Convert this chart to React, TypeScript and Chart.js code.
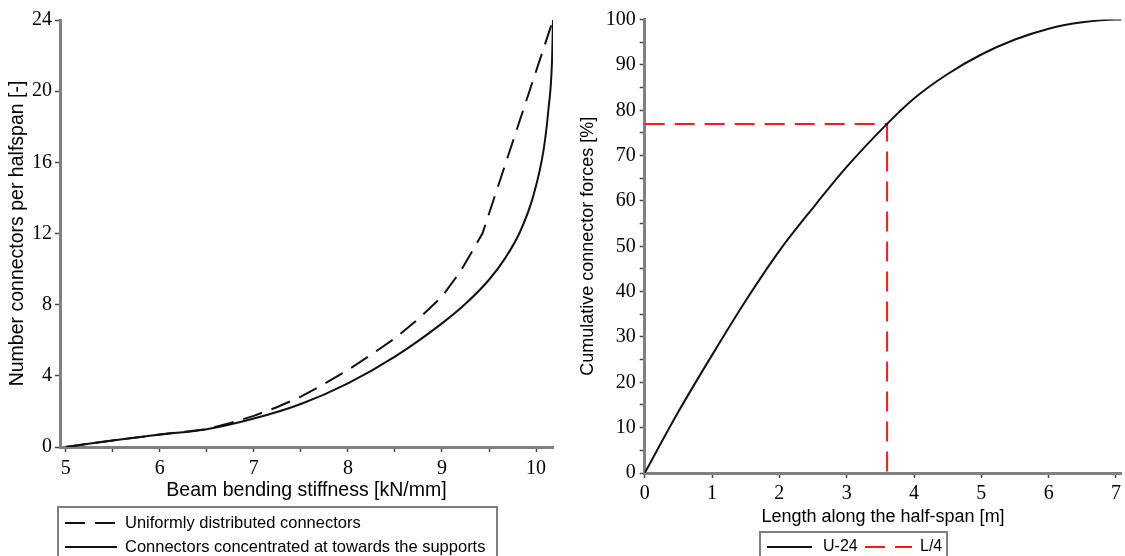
import React, { useEffect, useRef } from 'react';
import { Chart, registerables } from 'chart.js';

Chart.register(...registerables);

// ---- Left chart data ----
const stiffnessUniform = [5.0, 5.5, 6.0, 6.5, 6.75, 7.0, 7.25, 7.5, 7.75, 8.0, 8.25, 8.5, 8.75, 9.0, 9.2, 9.43, 10.18];
const connectorsUniform = [0, 0.37, 0.7, 1.0, 1.35, 1.75, 2.25, 2.83, 3.55, 4.33, 5.2, 6.11, 7.2, 8.45, 9.9, 12, 24];
const stiffnessConcentrated = [5.0, 5.5, 6.0, 6.5, 7.0, 7.5, 8.0, 8.5, 9.0, 9.25, 9.5, 9.67, 9.83, 9.97, 10.08, 10.13, 10.17, 10.18];
const connectorsConcentrated = [0, 0.37, 0.7, 1.0, 1.6, 2.42, 3.58, 5.08, 6.95, 8.05, 9.4, 10.6, 12.1, 14.1, 16.7, 18.9, 21.75, 24];

// ---- Right chart data ----
const spanLength = [0, 0.5, 1, 1.5, 2, 2.5, 3, 3.6, 4, 4.5, 5, 5.5, 6, 6.5, 7, 7.1];
const cumulativeForce = [0, 13.5, 26, 38, 49, 58.5, 67.5, 77, 82.6, 88, 92.3, 95.6, 98, 99.4, 100, 100];
const quarterSpanX = [0, 3.6, 3.6];
const quarterSpanY = [77, 77, 0];

const SANS = '"Liberation Sans", Arial, sans-serif';
const SERIF = '"Liberation Serif", "Times New Roman", serif';

const zip = (xs: number[], ys: number[]) => xs.map((x, i) => ({ x, y: ys[i] }));

const boxLegend = {
  id: 'boxLegend',
  afterDraw(chart: any, _args: any, opts: any) {
    const ctx = chart.ctx;
    ctx.save();
    ctx.strokeStyle = '#7f7f7f';
    ctx.lineWidth = 2;
    ctx.setLineDash([]);
    ctx.strokeRect(opts.x, opts.y, opts.w, opts.h);
    ctx.font = `${opts.fontSize}px ${SANS}`;
    ctx.textBaseline = 'middle';
    ctx.textAlign = 'left';
    chart.data.datasets.forEach((ds: any, i: number) => {
      const it = opts.items[i];
      ctx.beginPath();
      ctx.setLineDash(ds.borderDash || []);
      ctx.strokeStyle = ds.borderColor;
      ctx.lineWidth = 2;
      ctx.moveTo(it.x, it.y);
      ctx.lineTo(it.x + it.len, it.y);
      ctx.stroke();
      ctx.setLineDash([]);
      ctx.fillStyle = '#000';
      ctx.fillText(ds.label, it.x + it.len + it.gap, it.y);
    });
    ctx.restore();
  },
};

const axisCommon = (opts: any) => ({
  type: 'linear',
  border: { display: true, color: '#808080', width: 3 },
  grid: { display: true, drawOnChartArea: false, drawTicks: true, tickLength: 5, tickColor: '#444', tickWidth: 1.5 },
  ...opts,
});

export default function App() {
  const leftRef = useRef<HTMLCanvasElement | null>(null);
  const rightRef = useRef<HTMLCanvasElement | null>(null);

  useEffect(() => {
    Chart.defaults.font.family = SANS;
    Chart.defaults.color = '#000';

    const left = new Chart(leftRef.current as HTMLCanvasElement, {
      type: 'line',
      data: {
        datasets: [
          {
            label: 'Uniformly distributed connectors',
            data: zip(stiffnessUniform, connectorsUniform),
            borderColor: '#111',
            borderWidth: 2,
            borderDash: [20, 10],
            pointRadius: 0,
            tension: 0,
          },
          {
            label: 'Connectors concentrated at towards the supports',
            data: zip(stiffnessConcentrated, connectorsConcentrated),
            borderColor: '#111',
            borderWidth: 2,
            pointRadius: 0,
            cubicInterpolationMode: 'monotone',
          },
        ],
      } as any,
      options: {
        animation: false,
        responsive: false,
        layout: { padding: { left: 0, right: 47, top: 20, bottom: 53.3 } },
        plugins: {
          legend: { display: false },
          tooltip: { enabled: false },
          boxLegend: {
            x: 58, y: 507, w: 439, h: 70, fontSize: 16.5,
            items: [
              { x: 65, y: 523, len: 52, gap: 8 },
              { x: 65, y: 547, len: 52, gap: 8 },
            ],
          },
        } as any,
        scales: {
          x: axisCommon({
            min: 4.94,
            max: 10.18,
            afterFit: (s: any) => { s.height = 55.7; },
            ticks: {
              stepSize: 0.5,
              includeBounds: false,
              autoSkip: false,
              maxRotation: 0,
              padding: 5,
              font: { family: SERIF, size: 20 },
              callback: (v: any) => (Number.isInteger(v) ? String(v) : ''),
            },
            title: { display: true, text: 'Beam bending stiffness [kN/mm]', font: { size: 19.5 }, padding: { top: 0, bottom: 0 } },
          }),
          y: axisCommon({
            min: 0,
            max: 24,
            afterFit: (s: any) => { s.width = 60; },
            ticks: {
              stepSize: 4,
              includeBounds: false,
              autoSkip: false,
              padding: 3,
              font: { family: SERIF, size: 20 },
            },
            title: { display: true, text: 'Number connectors per halfspan [-]', font: { size: 19.5 }, padding: { top: 6.3, bottom: 0 } },
          }),
        } as any,
      },
      plugins: [boxLegend as any],
    });

    const right = new Chart(rightRef.current as HTMLCanvasElement, {
      type: 'line',
      data: {
        datasets: [
          {
            label: 'U-24',
            data: zip(spanLength, cumulativeForce),
            borderColor: '#111',
            borderWidth: 2,
            pointRadius: 0,
            cubicInterpolationMode: 'monotone',
          },
          {
            label: 'L/4',
            data: zip(quarterSpanX, quarterSpanY),
            borderColor: '#ff1a1a',
            borderWidth: 2,
            borderDash: [20, 10],
            pointRadius: 0,
            tension: 0,
          },
        ],
      } as any,
      options: {
        animation: false,
        responsive: false,
        layout: { padding: { left: 0, right: 1, top: 19.6, bottom: 27.7 } },
        plugins: {
          legend: { display: false },
          tooltip: { enabled: false },
          boxLegend: {
            x: 195, y: 532, w: 187, h: 50, fontSize: 16,
            items: [
              { x: 202, y: 547, len: 45, gap: 11 },
              { x: 300, y: 547, len: 47, gap: 8 },
            ],
          },
        } as any,
        scales: {
          x: axisCommon({
            min: 0,
            max: 7.08,
            afterFit: (s: any) => { s.height = 55.3; },
            ticks: {
              stepSize: 1,
              includeBounds: false,
              autoSkip: false,
              maxRotation: 0,
              padding: 4,
              font: { family: SERIF, size: 20 },
            },
            title: { display: true, text: 'Length along the half-span [m]', font: { size: 18 }, padding: { top: 0, bottom: 0 } },
          }),
          y: axisCommon({
            min: 0,
            max: 100,
            afterFit: (s: any) => { s.width = 79.7; },
            ticks: {
              stepSize: 5,
              includeBounds: false,
              autoSkip: false,
              padding: 4,
              font: { family: SERIF, size: 20 },
              callback: (v: any) => (v % 10 === 0 ? String(v) : ''),
            },
            title: { display: true, text: 'Cumulative connector forces [%]', font: { size: 18 }, padding: { top: 12.5, bottom: 0 } },
          }),
        } as any,
      },
      plugins: [boxLegend as any],
    });

    return () => {
      left.destroy();
      right.destroy();
    };
  }, []);

  return (
    <div style={{ position: 'fixed', left: 0, top: 0, width: 1125, height: 556, overflow: 'hidden', background: '#fff' }}>
      <canvas ref={leftRef} width={600} height={556} style={{ position: 'absolute', left: 0, top: 0, display: 'block' }} />
      <canvas ref={rightRef} width={560} height={556} style={{ position: 'absolute', left: 565, top: 0, display: 'block' }} />
    </div>
  );
}
